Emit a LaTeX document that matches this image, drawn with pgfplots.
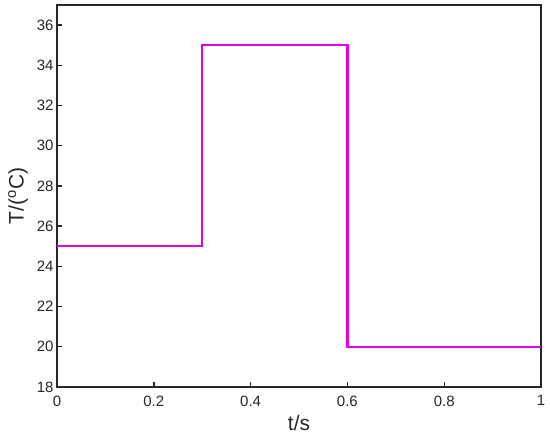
\documentclass[border=0pt]{standalone}
\usepackage{fontspec}
\setmainfont{Liberation Sans}
\usepackage{pgfplots}
\pgfplotsset{compat=1.18}
\definecolor{linemag}{RGB}{225,0,225}
\definecolor{axgray}{RGB}{38,38,38}
\begin{document}
\begin{tikzpicture}
\begin{axis}[
  scale only axis,
  width=484pt, height=382pt,
  xmin=0, xmax=1, ymin=18, ymax=37,
  xtick={0,0.2,0.4,0.6,0.8,1},
  ytick={18,20,...,36},
  xticklabels={0,0.2,0.4,0.6,0.8,1},
  tick align=inside,
  tick pos=left,
  major tick length=5pt,
  axis line style={axgray, line width=1.4pt},
  every tick/.style={axgray, line width=1.4pt},
  tick label style={font=\fontsize{15}{17}\selectfont, text=axgray},
  /pgf/number format/assume math mode=true,
  xticklabel style={yshift=-5pt},
  xlabel={t/s},
  ylabel={T/($^{\mathrm{o}}$C)},
  label style={font=\fontsize{21}{24}\selectfont, text=axgray},
  xlabel style={yshift=-2pt},
  ylabel style={yshift=2pt},
]
\addplot[linemag, line width=2.3pt, const plot, line join=miter] coordinates {
  (0,25) (0.3,35) (0.6,20) (1,20)
};
\end{axis}
\useasboundingbox (current axis.south west) ++(-57pt,-50pt) rectangle ([shift={(9pt,5pt)}]current axis.north east);
\end{tikzpicture}
\end{document}
